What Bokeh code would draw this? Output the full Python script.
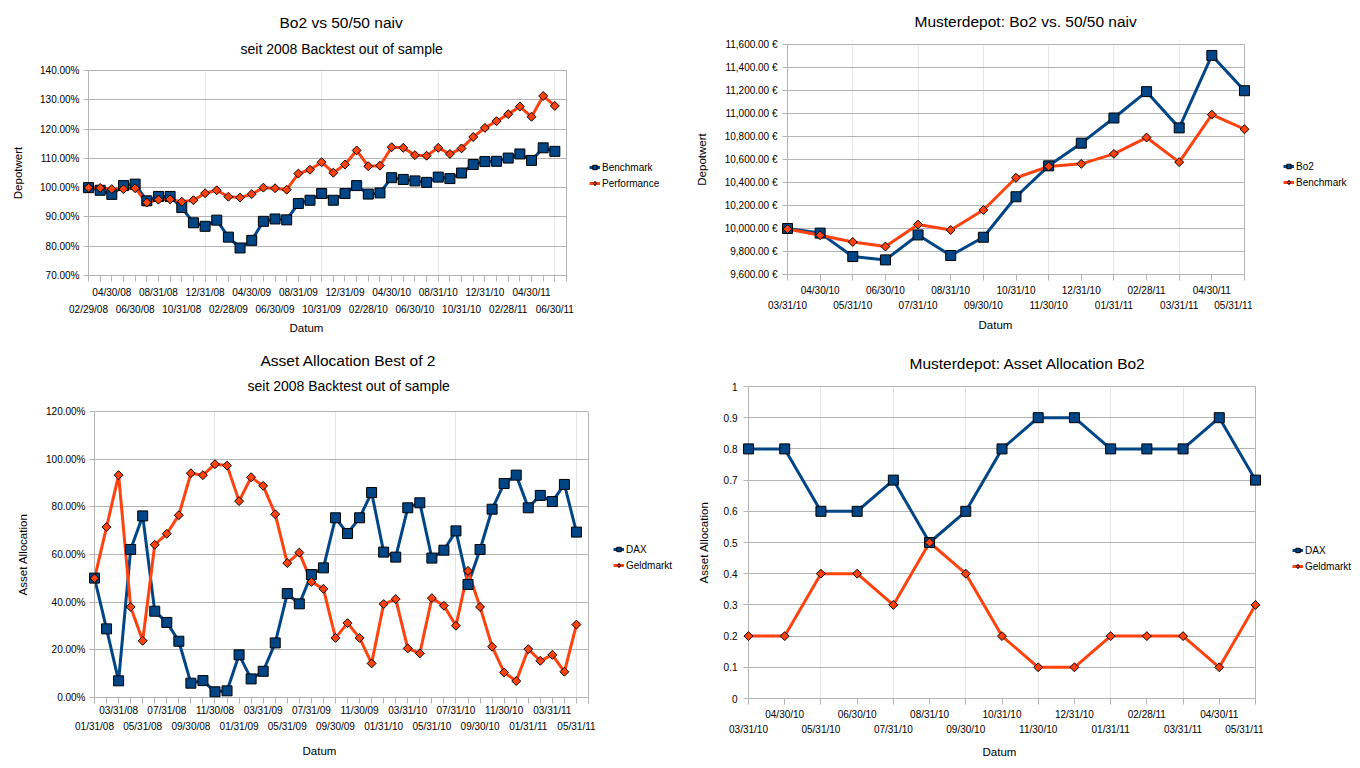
from bokeh.plotting import figure
from bokeh.models import (LinearAxis, FixedTicker, Range1d, Legend, LegendItem, Title)
from bokeh.layouts import column, row
from bokeh.embed import file_html
from bokeh.resources import INLINE

FONT = "Liberation Sans"
BLUE = "#004586"
ORANGE = "#ff420e"
GRID = "#b3b3b3"
NAN = float("nan")

# ---------------- data ----------------
p1_dates = ["02/29/08", "03/31/08", "04/30/08", "05/31/08", "06/30/08", "07/31/08", "08/31/08",
            "09/30/08", "10/31/08", "11/30/08", "12/31/08", "01/31/09", "02/28/09", "03/31/09",
            "04/30/09", "05/31/09", "06/30/09", "07/31/09", "08/31/09", "09/30/09", "10/31/09",
            "11/30/09", "12/31/09", "01/31/10", "02/28/10", "03/31/10", "04/30/10", "05/31/10",
            "06/30/10", "07/31/10", "08/31/10", "09/30/10", "10/31/10", "11/30/10", "12/31/10",
            "01/31/11", "02/28/11", "03/31/11", "04/30/11", "05/31/11", "06/30/11"]
p1_benchmark = [100.0, 99.1, 97.7, 100.7, 101.2, 95.5, 97.0, 97.0, 93.2, 88.0, 86.8, 88.9, 83.1,
                79.4, 82.0, 88.5, 89.3, 89.0, 94.6, 95.7, 98.0, 95.7, 98.0, 100.7, 97.8, 98.2,
                103.4, 102.8, 102.3, 101.8, 103.6, 103.1, 105.0, 107.9, 108.9, 109.0, 110.1,
                111.5, 109.3, 113.6, 112.4]
p1_performance = [100.0, 99.9, 99.5, 99.5, 99.8, 94.9, 95.9, 96.0, 95.2, 95.7, 98.1, 99.1, 96.9,
                  96.6, 97.8, 100.0, 99.8, 99.3, 104.8, 106.1, 108.7, 105.1, 107.9, 112.7, 107.3,
                  107.5, 113.8, 113.6, 111.1, 110.9, 113.6, 111.5, 113.4, 117.3, 120.4, 122.7,
                  125.1, 127.7, 124.2, 131.3, 127.9]
p1_yticks = [70, 80, 90, 100, 110, 120, 130, 140]

p2_dates = ["03/31/10", "04/30/10", "05/31/10", "06/30/10", "07/31/10", "08/31/10", "09/30/10",
            "10/31/10", "11/30/10", "12/31/10", "01/31/11", "02/28/11", "03/31/11", "04/30/11",
            "05/31/11"]
p2_bo2 = [10000, 9960, 9756, 9727, 9944, 9765, 9924, 10276, 10545, 10742, 10961, 11190, 10875,
          11505, 11198]
p2_benchmark = [9995, 9941, 9883, 9843, 10034, 9987, 10161, 10441, 10539, 10562, 10649, 10791,
                10577, 10990, 10863]
p2_yticks = [9600, 9800, 10000, 10200, 10400, 10600, 10800, 11000, 11200, 11400, 11600]

p3_dates = ["01/31/08", "02/29/08", "03/31/08", "04/30/08", "05/31/08", "06/30/08", "07/31/08",
            "08/31/08", "09/30/08", "10/31/08", "11/30/08", "12/31/08", "01/31/09", "02/28/09",
            "03/31/09", "04/30/09", "05/31/09", "06/30/09", "07/31/09", "08/31/09", "09/30/09",
            "10/31/09", "11/30/09", "12/31/09", "01/31/10", "02/28/10", "03/31/10", "04/30/10",
            "05/31/10", "06/30/10", "07/31/10", "08/31/10", "09/30/10", "10/31/10", "11/30/10",
            "12/31/10", "01/31/11", "02/28/11", "03/31/11", "04/30/11", "05/31/11"]
p3_dax = [50.1, 28.8, 7.0, 62.1, 76.2, 36.2, 31.5, 23.6, 6.0, 7.1, 2.4, 2.8, 17.9, 7.8, 11.0,
          22.9, 43.6, 39.3, 51.6, 54.4, 75.4, 68.8, 75.4, 86.0, 61.0, 58.9, 79.6, 81.7, 58.5,
          61.8, 69.9, 47.4, 62.1, 79.0, 89.8, 93.3, 79.6, 84.8, 82.2, 89.4, 69.4]
p3_geld = [50.0, 71.5, 93.3, 38.0, 23.8, 64.1, 68.7, 76.5, 94.1, 93.3, 97.9, 97.3, 82.4, 92.4,
           88.8, 76.9, 56.4, 60.8, 48.5, 45.6, 25.0, 31.2, 25.0, 14.3, 39.2, 41.3, 20.6, 18.5,
           41.7, 38.5, 30.1, 53.1, 38.0, 21.3, 10.5, 6.9, 20.3, 15.4, 17.9, 10.8, 30.6]
p3_yticks = [0, 20, 40, 60, 80, 100, 120]

p4_dates = p2_dates
p4_dax = [0.8, 0.8, 0.6, 0.6, 0.7, 0.5, 0.6, 0.8, 0.9, 0.9, 0.8, 0.8, 0.8, 0.9, 0.7]
p4_geld = [0.2, 0.2, 0.4, 0.4, 0.3, 0.5, 0.4, 0.2, 0.1, 0.1, 0.2, 0.2, 0.2, 0.1, 0.3]
p4_yticks = [0, 0.1, 0.2, 0.3, 0.4, 0.5, 0.6, 0.7, 0.8, 0.9, 1]
p4_ylabels = ["0", "0.1", "0.2", "0.3", "0.4", "0.5", "0.6", "0.7", "0.8", "0.9", "1"]


# ---------------- helpers ----------------
def make_fig(fw, fh, left, right, top, bottom, xr, yr):
    p = figure(frame_width=fw, frame_height=fh, x_range=Range1d(*xr), y_range=Range1d(*yr),
               output_backend="svg", toolbar_location=None, title=None,
               min_border_left=left, min_border_right=right, min_border_top=top,
               min_border_bottom=bottom, x_axis_location=None)
    p.outline_line_color = GRID
    p.background_fill_color = "white"
    p.border_fill_color = "white"
    return p


def add_titles(p, main, sub, gap_size, main_off, main_standoff, sub_off=0):
    # blank spacer closest to the frame
    p.add_layout(Title(text=" ", text_font=FONT, text_font_size=gap_size, standoff=0,
                       text_color="white"), "above")
    if sub is not None:
        p.add_layout(Title(text=sub, align="left", offset=sub_off, text_font=FONT,
                           text_font_size="14px", text_font_style="normal",
                           text_color="black", standoff=4), "above")
    p.add_layout(Title(text=main, align="left", offset=main_off, text_font=FONT,
                       text_font_size="15.5px", text_font_style="normal",
                       text_color="black", standoff=main_standoff), "above")


def add_xaxes(p, dates, n_ticks, step, datum_off, s1, s2, datum_standoff):
    ticks = list(range(n_ticks))
    upper = {}
    for i in ticks:
        upper[i] = dates[i] if (i < len(dates) and i % (2 * step) == step) else ""
    lower_ticks = [i for i in range(len(dates)) if i % (2 * step) == 0]
    lower = {i: dates[i] for i in lower_ticks}
    ax1 = LinearAxis(ticker=FixedTicker(ticks=ticks), major_label_overrides=upper)
    ax1.axis_line_color = GRID
    ax1.major_tick_line_color = GRID
    ax1.major_tick_out = 6
    ax1.major_tick_in = 0
    ax1.minor_tick_line_color = None
    ax1.major_label_standoff = s1
    ax1.major_label_text_font = FONT
    ax1.major_label_text_font_size = "10px"
    ax1.major_label_text_color = "black"
    p.add_layout(ax1, "below")
    ax2 = LinearAxis(ticker=FixedTicker(ticks=lower_ticks), major_label_overrides=lower)
    ax2.axis_line_color = None
    ax2.major_tick_line_color = None
    ax2.major_tick_out = 0
    ax2.major_tick_in = 0
    ax2.minor_tick_line_color = None
    ax2.major_label_standoff = s2
    ax2.major_label_text_font = FONT
    ax2.major_label_text_font_size = "10px"
    ax2.major_label_text_color = "black"
    p.add_layout(ax2, "below")
    p.add_layout(Title(text="Datum", align="left", offset=datum_off, text_font=FONT,
                       text_font_size="11.5px", text_font_style="normal",
                       text_color="black", standoff=datum_standoff), "below")


def style_yaxis(p, ticks, label, standoff, label_standoff, overrides=None):
    ax = p.yaxis[0]
    ax.ticker = FixedTicker(ticks=ticks)
    if overrides is not None:
        ax.major_label_overrides = overrides
    ax.axis_line_color = GRID
    ax.major_tick_line_color = GRID
    ax.major_tick_out = 5
    ax.major_tick_in = 0
    ax.minor_tick_line_color = None
    ax.major_label_standoff = standoff
    ax.major_label_text_font = FONT
    ax.major_label_text_font_size = "10px"
    ax.major_label_text_color = "black"
    ax.axis_label = label
    ax.axis_label_text_font = FONT
    ax.axis_label_text_font_size = "11.5px"
    ax.axis_label_text_font_style = "normal"
    ax.axis_label_text_color = "black"
    ax.axis_label_standoff = label_standoff
    p.ygrid.ticker = FixedTicker(ticks=ticks)
    p.ygrid.grid_line_color = GRID


def add_series(p, xs, ys, color, kind, lw=3):
    p.line(xs, ys, line_color=color, line_width=lw)
    if kind == "square":
        p.scatter(xs, ys, marker="square", size=10, fill_color=color,
                  line_color="black", line_width=1, level="overlay")
    else:
        p.scatter(xs, ys, marker="square", size=6.3, angle=0.785398, fill_color=color,
                  line_color="black", line_width=1, level="overlay")


def legend_fig(width, height, entries, x, y):
    lf = figure(width=width, height=height, x_range=Range1d(0, 1), y_range=Range1d(0, 1),
                output_backend="svg", toolbar_location=None, title=None,
                min_border=0, x_axis_location=None, y_axis_location=None)
    lf.outline_line_color = None
    lf.xgrid.visible = False
    lf.ygrid.visible = False
    items = []
    for label, color, kind in entries:
        ln = lf.line([NAN], [NAN], line_color=color, line_width=3)
        mk = lf.scatter([NAN], [NAN], marker=kind, size=8, fill_color=color,
                        line_color="black", line_width=1)
        items.append(LegendItem(label=label, renderers=[ln, mk]))
    leg = Legend(items=items, location=(x, y), orientation="vertical")
    leg.label_text_font = FONT
    leg.label_text_font_size = "10px"
    leg.label_text_color = "black"
    leg.glyph_width = 11
    leg.glyph_height = 12
    leg.label_height = 12
    leg.label_standoff = 2
    leg.spacing = 4
    leg.padding = 0
    leg.margin = 0
    leg.border_line_color = None
    leg.background_fill_alpha = 0
    lf.add_layout(leg, "center")
    return lf


# ---------------- panel 1 ----------------
p1 = make_fig(478, 205, 88, 8, 70, 65, (0, 41), (70, 140))
add_titles(p1, "Bo2 vs 50/50 naiv", "seit 2008 Backtest out of sample", "9.3px", 191, 11, 152)
add_xaxes(p1, p1_dates, 42, 2, 201, 5, 3, 4)
style_yaxis(p1, p1_yticks, "Depotwert", 4, 13,
            overrides={v: "%.2f%%" % v for v in p1_yticks})
x1 = list(range(len(p1_dates)))
add_series(p1, x1, p1_benchmark, BLUE, "square")
add_series(p1, x1, p1_performance, ORANGE, "diamond")
l1 = legend_fig(106, 340, [("Benchmark", BLUE, "square"), ("Performance", ORANGE, "diamond")],
                15, 151)

# ---------------- panel 2 ----------------
p2 = make_fig(457, 230, 107, 8, 44, 66, (0, 14), (9600, 11600))
add_titles(p2, "Musterdepot: Bo2 vs. 50/50 naiv", None, "10.3px", 127, 4)
add_xaxes(p2, p2_dates, 15, 1, 191, 4, 1, 6)
style_yaxis(p2, p2_yticks, "Depotwert", 5, 14,
            overrides={v: "{:,.2f} €".format(v) for v in p2_yticks})
x2 = list(range(len(p2_dates)))
add_series(p2, x2, p2_bo2, BLUE, "square")
add_series(p2, x2, p2_benchmark, ORANGE, "diamond")
l2 = legend_fig(108, 340, [("Bo2", BLUE, "square"), ("Benchmark", ORANGE, "diamond")], 31, 152)

# ---------------- panel 3 ----------------
p3 = make_fig(494, 286, 94, 8, 71, 69, (0, 41), (0, 120))
add_titles(p3, "Asset Allocation Best of 2", "seit 2008 Backtest out of sample", "11.9px", 166, 9, 153)
add_xaxes(p3, p3_dates, 42, 2, 208, 1, 2, 17)
style_yaxis(p3, p3_yticks, "Asset Allocation", 4, 14,
            overrides={v: "%.2f%%" % v for v in p3_yticks})
x3 = list(range(len(p3_dates)))
add_series(p3, x3, p3_dax, BLUE, "square")
add_series(p3, x3, p3_geld, ORANGE, "diamond")
l3 = legend_fig(84, 426, [("DAX", BLUE, "square"), ("Geldmarkt", ORANGE, "diamond")], 17, 195)

# ---------------- panel 4 ----------------
p4 = make_fig(507, 312, 68, 8, 46, 68, (0, 14), (0, 1))
add_titles(p4, "Musterdepot: Asset Allocation Bo2", None, "9.5px", 161, 4)
add_xaxes(p4, p4_dates, 15, 1, 234, 4, 1, 12)
style_yaxis(p4, p4_yticks, "Asset Allocation", 6, 11,
            overrides={v: l for v, l in zip(p4_yticks, p4_ylabels)})
x4 = list(range(len(p4_dates)))
add_series(p4, x4, p4_dax, BLUE, "square")
add_series(p4, x4, p4_geld, ORANGE, "diamond")
l4 = legend_fig(97, 426, [("DAX", BLUE, "square"), ("Geldmarkt", ORANGE, "diamond")], 29, 194)

layout = column(row(column(p1), column(l1), column(p2), column(l2), spacing=0),
                row(column(p3), column(l3), column(p4), column(l4), spacing=0), spacing=0)
open("out.html", "w").write(file_html(layout, INLINE))
